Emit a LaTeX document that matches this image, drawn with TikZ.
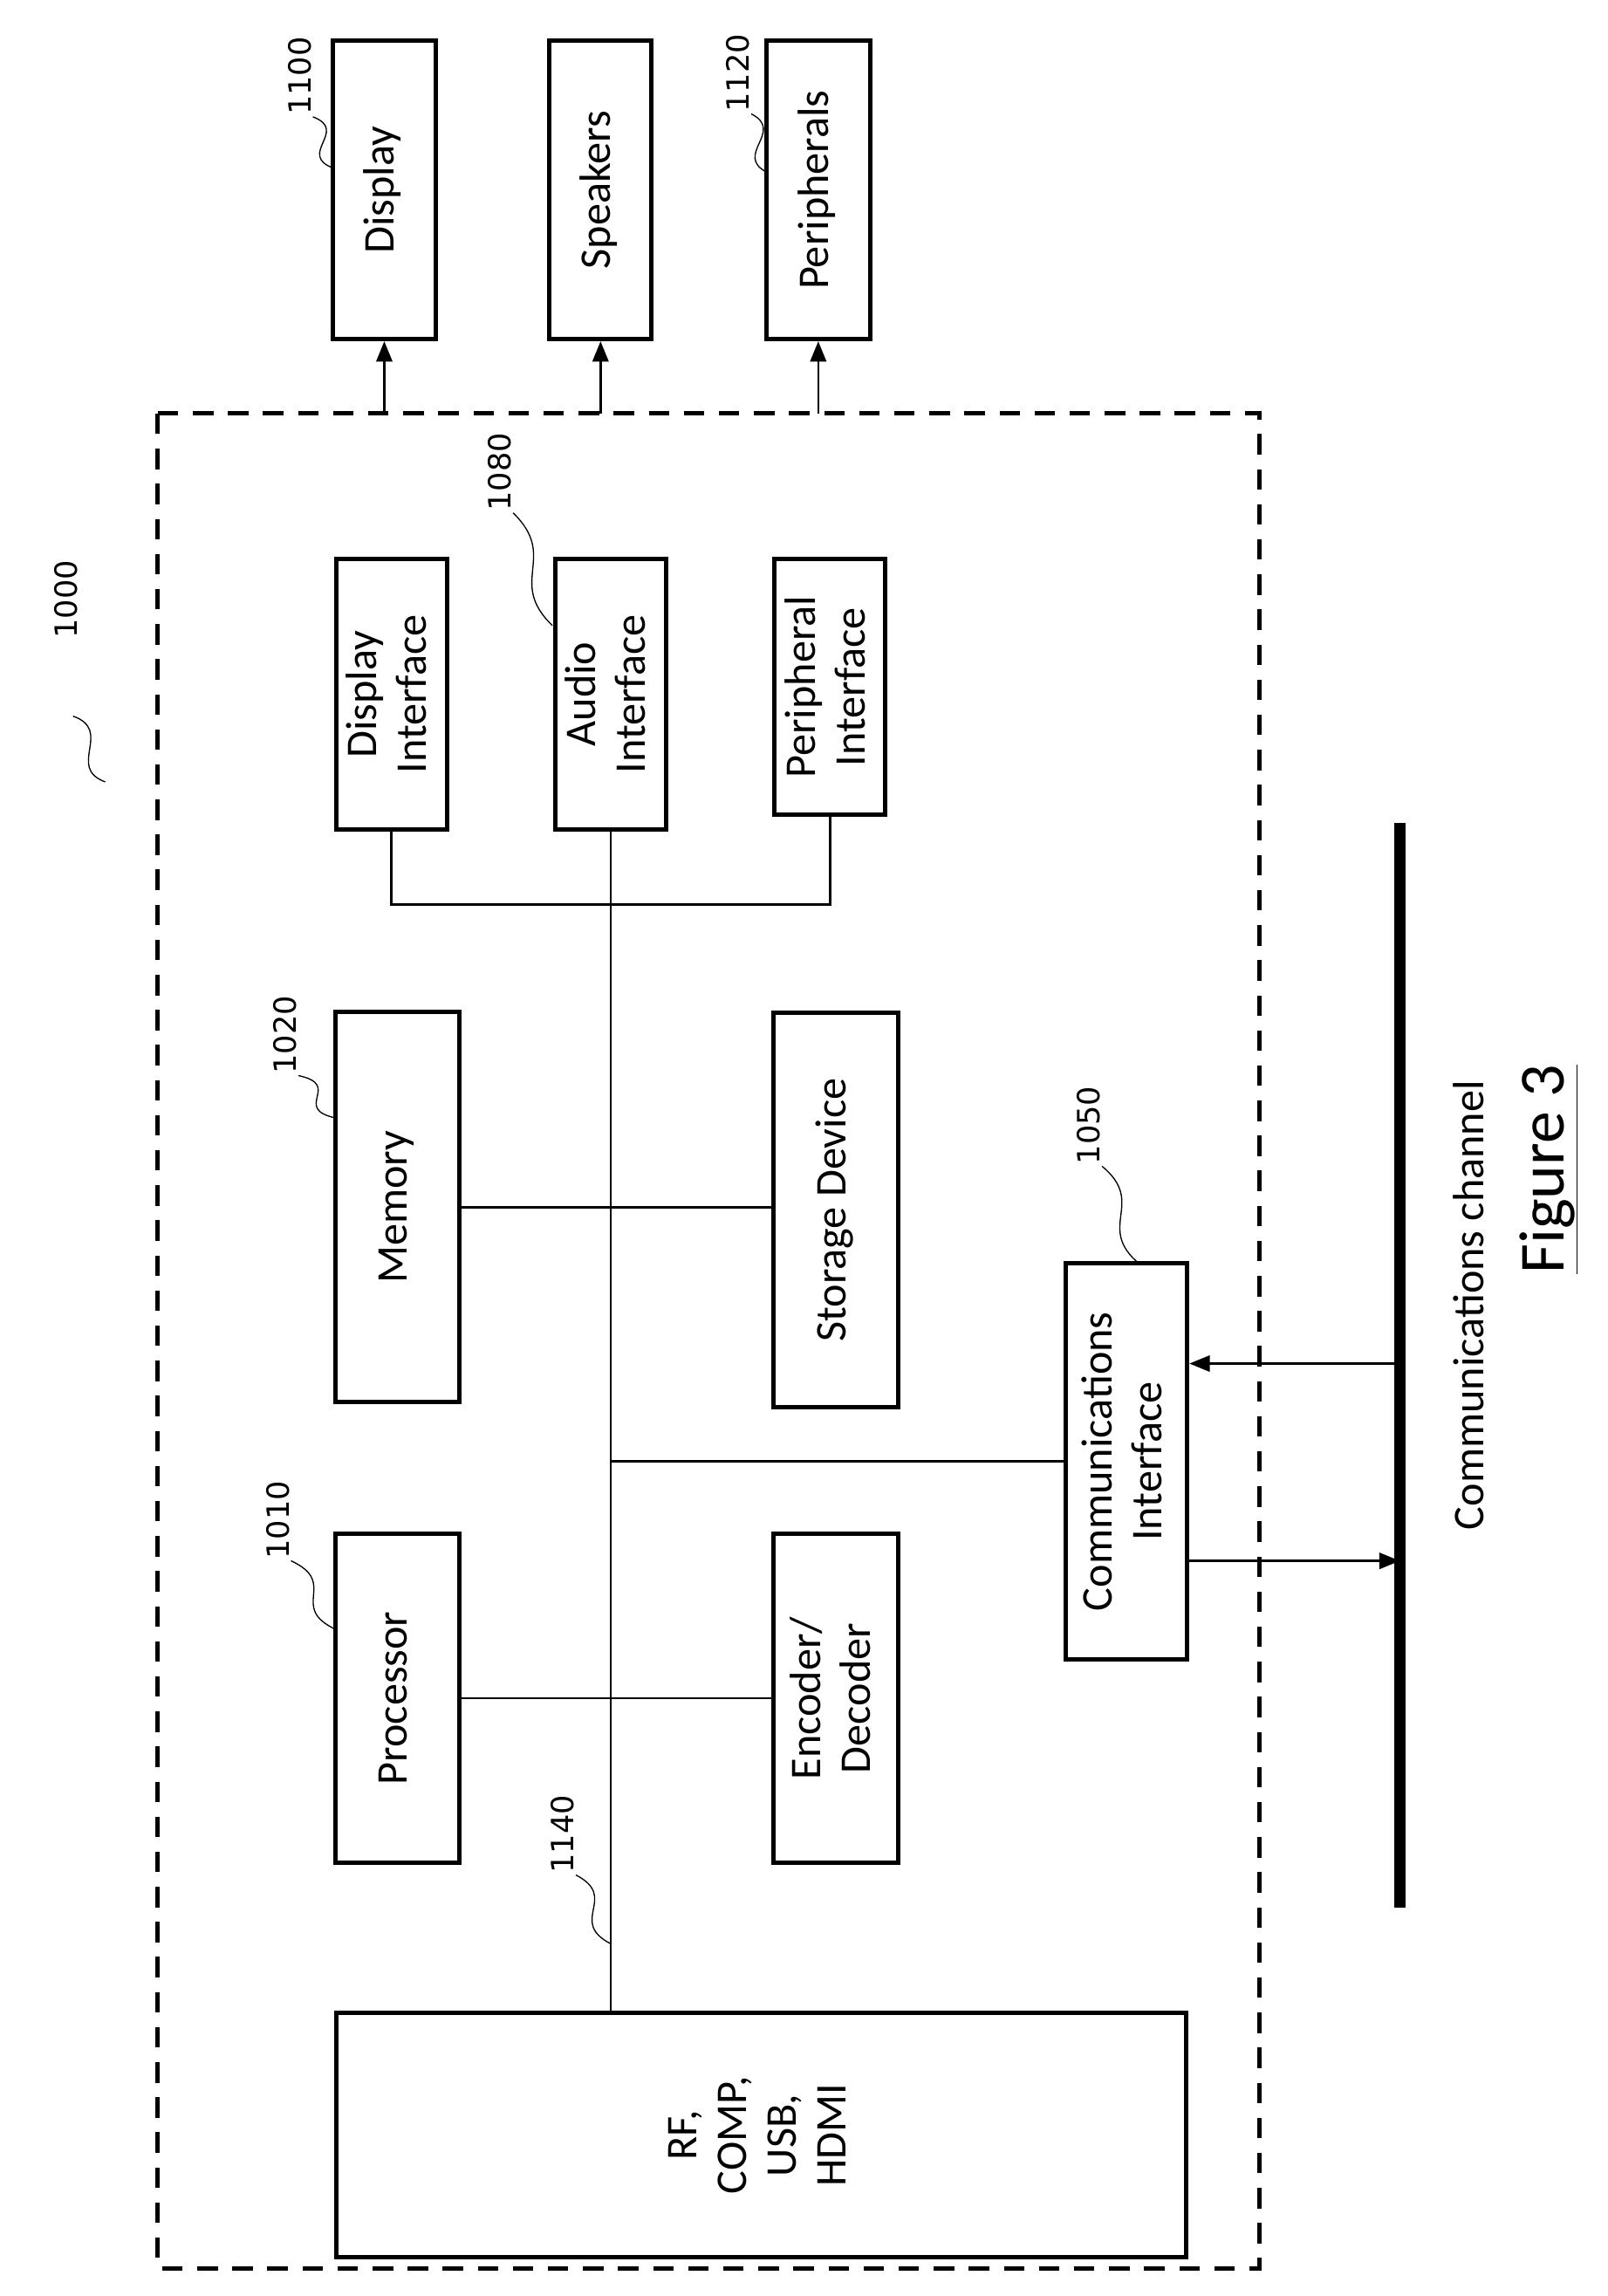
\documentclass[tikz,border=0pt]{standalone}
\usepackage{fontspec}
\setmainfont{Carlito}
\newfontfamily\numfont{DejaVu Sans}
\usetikzlibrary{arrows.meta,calc}
\begin{document}
\begin{tikzpicture}[x=1pt,y=1pt,
  box/.style={draw,line width=3pt,inner sep=0pt,align=center,font=\fontsize{30}{34}\selectfont},
  wire/.style={line width=1.6pt},
  arr/.style={line width=1.6pt,-{Triangle[length=14pt,width=11pt]}},
  lab/.style={rotate=90,inner sep=1pt,font=\numfont\fontsize{21}{24}\selectfont},
  leader/.style={line width=0.8pt},
  border/.style={line width=3pt,dash pattern=on 14pt off 10pt}]
\useasboundingbox (0,0) rectangle (1100,-1571);
\newcommand{\rbox}[1]{\rotatebox{90}{\begin{tabular}{c}#1\end{tabular}}}
% boxes
\node[box,minimum width=70pt,minimum height=204pt] (disp) at (263,-130) {\rbox{Display}};
\node[box,minimum width=70pt,minimum height=204pt] (spk) at (411,-130) {\rbox{Speakers}};
\node[box,minimum width=71pt,minimum height=204pt] (per) at (560,-130) {\rbox{Peripherals}};
\node[box,minimum width=76pt,minimum height=185pt] (dif) at (268,-475) {\rbox{Display\\Interface}};
\node[box,minimum width=76pt,minimum height=185pt] (aif) at (418,-475) {\rbox{Audio\\Interface}};
\node[box,minimum width=76pt,minimum height=175pt] (pif) at (568,-470) {\rbox{Peripheral\\Interface}};
\node[box,minimum width=85pt,minimum height=267pt] (mem) at (272,-826) {\rbox{Memory}};
\node[box,minimum width=85pt,minimum height=270pt] (sto) at (572,-828) {\rbox{Storage Device}};
\node[box,minimum width=85pt,minimum height=225pt] (proc) at (272,-1162) {\rbox{Processor}};
\node[box,minimum width=85pt,minimum height=225pt] (enc) at (572,-1162) {\rbox{Encoder/\\Decoder}};
\node[box,minimum width=83pt,minimum height=271pt] (com) at (771,-1000) {\rbox{Communications\\Interface}};
\node[box,minimum width=582pt,minimum height=167pt] (rf) at (521,-1461) {\rbox{RF,\\COMP,\\USB,\\HDMI}};
% border
\coordinate (bnw) at (108,-283);
\coordinate (bse) at (862,-1552);
\draw[border] (bnw) rectangle (bse);
% channel
\coordinate (chT) at (958,-563);
\coordinate (chB) at (958,-1305);
\draw[line width=8pt] (chT) -- (chB);
\node[font=\fontsize{30}{34}\selectfont,rotate=90] (chl) at (1005,-893) {Communications channel};
\node[font=\fontsize{44}{50}\selectfont,rotate=90] (fig) at (1060,-800) {\underline{Figure 3}};
% bus
\draw[wire] (aif.south) -- (aif.south |- rf.north);
\draw[wire] (dif.south) -- ++(0,-50) -| (pif.south);
\draw[wire] (mem.east) -- (mem.east -| sto.west);
\draw[wire] (proc.east) -- (proc.east -| enc.west);
\draw[wire] (aif.south |- com.west) -- (com.west);
% outputs
\draw[arr] (disp.south |- bnw) -- (disp.south);
\draw[arr] (spk.south |- bnw) -- (spk.south);
\draw[arr] (per.south |- bnw) -- (per.south);
% comm arrows
\coordinate (c1) at (958,-933);
\coordinate (c2) at (958,-1068);
\draw[arr] (c1) -- (c1 -| com.east);
\draw[arr] (c2 -| com.east) -- (c2);
% labels
\newcommand{\leadlab}[4]{%
  \node[lab] (l#1) at (#2) {#1};
  \coordinate (t#1) at (#3);
  \draw[leader] (l#1.south west) .. controls ($(l#1.south west)!0.5!(t#1)+(18,8)$) and ($(l#1.south west)!0.5!(t#1)+(-18,-8)$) .. (t#1);}
\leadlab{1100}{205,-52}{228,-115}
\leadlab{1110}{356,-50}{376,-118}
\leadlab{1120}{505,-50}{525,-118}
\leadlab{1070}{192,-328}{230,-415}
\leadlab{1080}{342,-323}{378,-428}
\leadlab{1090}{492,-343}{530,-430}
\leadlab{1020}{195,-708}{230,-765}
\leadlab{1040}{492,-705}{530,-770}
\leadlab{1010}{190,-1040}{230,-1115}
\leadlab{1030}{495,-1040}{530,-1115}
\leadlab{1140}{385,-1255}{418,-1330}
\leadlab{1130}{715,-1300}{745,-1378}
\leadlab{1050}{745,-770}{780,-865}
\leadlab{1060}{915,-580}{955,-675}
\node[lab] (l1000) at (45,-410) {1000};
\coordinate (s1) at (50,-490);
\coordinate (s2) at (72,-535);
\draw[leader] (s1) .. controls (78,-500) and (45,-525) .. (s2);
\end{tikzpicture}
\end{document}
